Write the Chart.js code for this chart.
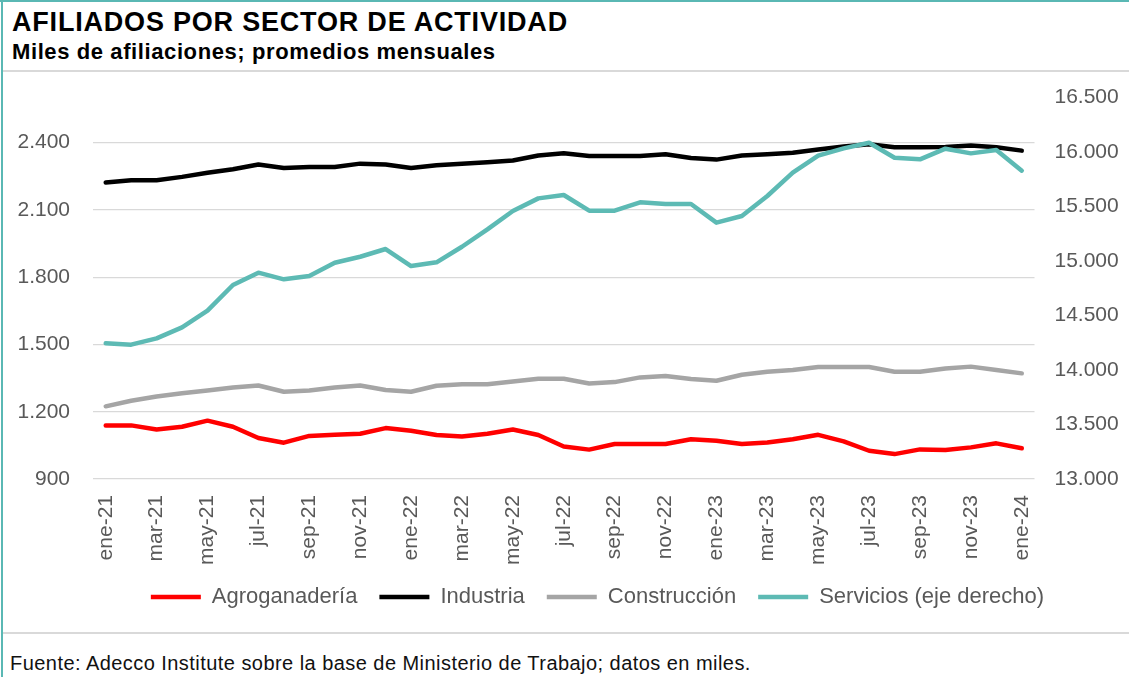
<!DOCTYPE html>
<html>
<head>
<meta charset="utf-8">
<script src="https://cdn.jsdelivr.net/npm/chart.js@4.4.1/dist/chart.umd.min.js"></script>
<style>
  body { margin: 0; background: #fff; }
  #wrap { position: relative; width: 1129px; height: 677px; overflow: hidden; background: #fff; font-family: "Liberation Sans", Arial, sans-serif; }
  .txt { position: absolute; white-space: nowrap; line-height: 1; }
  #title { left: 12px; top: 9px; font-size: 27px; font-weight: bold; color: #000; letter-spacing: 0.8px; }
  #subtitle { left: 12px; top: 41px; font-size: 22px; font-weight: bold; color: #000; letter-spacing: 0.6px; }
  #footer { left: 10px; top: 653px; font-size: 20px; color: #111; letter-spacing: 0.45px; }
  .hline { position: absolute; height: 2px; background: #d9d9d9; }
  #bTop { position: absolute; left: 0; top: 0; width: 1129px; height: 2px; background: #5ab8b4; }
  #bLeft { position: absolute; left: 1px; top: 0; width: 2px; height: 677px; background: #5ab8b4; }
  #chartBox { position: absolute; left: 0; top: 72px; width: 1129px; height: 560px; }
</style>
</head>
<body>
<div id="wrap">
  <div id="bTop"></div>
  <div id="bLeft"></div>
  <div class="txt" id="title">AFILIADOS POR SECTOR DE ACTIVIDAD</div>
  <div class="txt" id="subtitle">Miles de afiliaciones; promedios mensuales</div>
  <div class="hline" style="left:3px; top:70px; width:1126px;"></div>
  <div id="chartBox"><canvas id="chart" width="1129" height="560"></canvas></div>
  <div class="hline" style="left:3px; top:632px; width:1126px;"></div>
  <div class="txt" id="footer">Fuente: Adecco Institute sobre la base de Ministerio de Trabajo; datos en miles.</div>
</div>
<script>
// meses ene-21 .. ene-24
var months = ['ene-21','feb-21','mar-21','abr-21','may-21','jun-21','jul-21','ago-21','sep-21','oct-21','nov-21','dic-21',
              'ene-22','feb-22','mar-22','abr-22','may-22','jun-22','jul-22','ago-22','sep-22','oct-22','nov-22','dic-22',
              'ene-23','feb-23','mar-23','abr-23','may-23','jun-23','jul-23','ago-23','sep-23','oct-23','nov-23','dic-23',
              'ene-24'];

var agro = [1139,1139,1121,1133,1160,1133,1083,1062,1092,1097,1102,1127,1115,1096,1089,1102,1121,1096,1045,
            1031,1056,1056,1056,1077,1071,1056,1063,1077,1097,1068,1026,1011,1032,1029,1041,1059,1037];
var industria = [2222,2232,2232,2247,2265,2281,2302,2287,2291,2291,2306,2302,2287,2299,2306,2312,2320,2342,2352,
                 2340,2340,2340,2348,2331,2324,2342,2348,2355,2369,2382,2392,2379,2379,2380,2387,2379,2364];
var construccion = [1224,1249,1268,1282,1295,1308,1317,1289,1295,1308,1317,1297,1289,1316,1322,1322,1335,1347,1347,
                    1326,1332,1353,1359,1346,1338,1365,1378,1386,1399,1399,1399,1378,1378,1393,1401,1386,1371];
var servicios = [14245,14233,14291,14392,14545,14781,14894,14833,14863,14985,15040,15111,14955,14989,15132,15292,15460,15576,15607,
                 15463,15463,15540,15524,15524,15353,15414,15598,15812,15968,16035,16087,15949,15934,16032,15989,16020,15830];

var leftTicks = [900, 1200, 1500, 1800, 2100, 2400];
var rightTicks = [13000, 13500, 14000, 14500, 15000, 15500, 16000, 16500];

function miles(v) {
  return String(v).replace(/\B(?=(\d{3})+(?!\d))/g, '.');
}

function serie(label, data, color, axis, order) {
  return {
    label: label, data: data, yAxisID: axis, order: order,
    borderColor: color, backgroundColor: color, borderWidth: 4.5,
    borderCapStyle: 'round', borderJoinStyle: 'round',
    pointRadius: 0, pointHoverRadius: 0, tension: 0, fill: false
  };
}

var tickFont = { family: 'Liberation Sans', size: 21 };

// ancho fijo del eje y sin relleno extra arriba/abajo
function fixY(width) {
  return function(s) {
    s.width = width;
    s.paddingTop = 0;
    s.paddingBottom = 0;
  };
}

// la leyenda de Excel no queda centrada: se corre un poco a la derecha
var shiftLegend = {
  id: 'shiftLegend',
  afterLayout: function(chart) {
    chart.legend.left += 33;
    chart.legend.right += 33;
  }
};

new Chart(document.getElementById('chart'), {
  type: 'line',
  data: {
    labels: months,
    datasets: [
      serie('Agroganadería', agro, '#ff0000', 'y', 1),
      serie('Industria', industria, '#000000', 'y', 1),
      serie('Construcción', construccion, '#a5a5a5', 'y', 1),
      serie('Servicios (eje derecho)', servicios, '#5dbab4', 'y2', 0)
    ]
  },
  plugins: [shiftLegend],
  options: {
    responsive: false,
    animation: false,
    layout: { padding: { top: 25.7, bottom: 14, left: 0, right: 0 } },
    plugins: {
      tooltip: { enabled: false },
      legend: {
        position: 'bottom',
        labels: {
          sort: function(a, b) { return a.datasetIndex - b.datasetIndex; },
          usePointStyle: true, pointStyle: 'line', pointStyleWidth: 50,
          color: '#595959', font: { family: 'Liberation Sans', size: 22 }, padding: 22
        }
      }
    },
    scales: {
      x: {
        offset: true,
        grid: { display: false, drawTicks: false },
        border: { display: false },
        afterFit: function(s) { s.height = 85; },
        ticks: {
          autoSkip: false, minRotation: 90, maxRotation: 90, padding: 16,
          color: '#595959', font: tickFont,
          callback: function(v, i) { return i % 2 === 0 ? months[i] : ''; }
        }
      },
      y: {
        position: 'left', min: 900, max: 2600,
        afterBuildTicks: function(s) { s.ticks = leftTicks.map(function(v) { return { value: v }; }); },
        afterFit: fixY(93),
        grid: { color: '#d9d9d9', lineWidth: 1.2, drawTicks: false },
        border: { display: false },
        ticks: { padding: 23, color: '#595959', font: tickFont, callback: function(v) { return miles(v); } }
      },
      y2: {
        position: 'right', min: 13000, max: 16500,
        afterBuildTicks: function(s) { s.ticks = rightTicks.map(function(v) { return { value: v }; }); },
        afterFit: fixY(94.5),
        grid: { display: false, drawTicks: false },
        border: { display: false },
        ticks: { padding: 20, color: '#595959', font: tickFont, callback: function(v) { return miles(v); } }
      }
    }
  }
});
</script>
</body>
</html>
